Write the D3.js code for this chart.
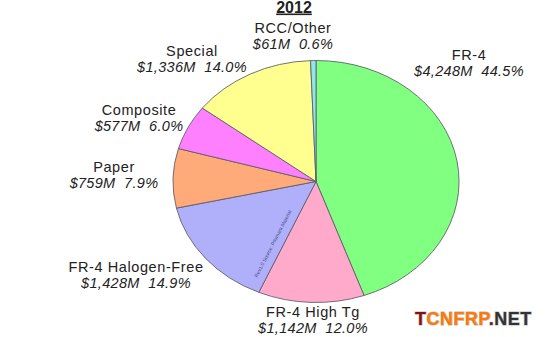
<!DOCTYPE html>
<html>
<head>
<meta charset="utf-8">
<script src="https://cdn.jsdelivr.net/npm/d3@7"></script>
<style>
  html, body { margin: 0; padding: 0; background: #fff; }
  svg { display: block; }
  text { font-family: "Liberation Sans", Arial, Helvetica, sans-serif; fill: #222; }
</style>
</head>
<body>
<svg id="chart" width="557" height="337"></svg>
<script>
// ---- data ----
const title = "2012";
const categories = ["FR-4", "FR-4 High Tg", "FR-4 Halogen-Free", "Paper", "Composite", "Special", "RCC/Other"];
const valuesM = ["$4,248M", "$1,142M", "$1,428M", "$759M", "$577M", "$1,336M", "$61M"];
const shares = [44.5, 12.0, 14.9, 7.9, 6.0, 14.0, 0.6];
const colors = ["#80ff80", "#ffaacb", "#b0b0fa", "#ffaa78", "#ff80ff", "#ffff90", "#8fe8e8"];

// ---- layout (label anchor points: center x, baseline of first line) ----
const labelPos = [[469, 60], [313, 317], [136, 272], [114, 172], [139, 115], [192, 56], [293, 33]];

const svg = d3.select("#chart");
const cx = 316, cy = 181.5, rx = 143, ry = 121;

const pie = d3.pie().sort(null).value(d => d.v);
const data = categories.map((c, i) => ({ c, v: shares[i], m: valuesM[i], col: colors[i], i }));
const arcs = pie(data);
const arc = d3.arc().innerRadius(0).outerRadius(1);

const g = svg.append("g").attr("transform", `translate(${cx},${cy}) scale(${rx},${ry})`);
g.selectAll("path").data(arcs).join("path")
  .attr("d", arc)
  .attr("fill", d => d.data.col)
  .attr("stroke", "#5a5a6a")
  .attr("stroke-opacity", 0.85)
  .attr("stroke-width", 1)
  .attr("vector-effect", "non-scaling-stroke");

// title
svg.append("text").attr("x", 294).attr("y", 12.5)
  .attr("text-anchor", "middle").attr("font-size", 16).attr("font-weight", "bold")
  .attr("text-decoration", "underline").text(title);

// labels
const lab = svg.append("g");
arcs.forEach((d, i) => {
  const [x, y] = labelPos[i];
  lab.append("text").attr("x", x).attr("y", y).attr("text-anchor", "middle")
    .attr("font-size", 14.5).attr("letter-spacing", 0.6).text(d.data.c);
  lab.append("text").attr("x", x).attr("y", y + 15.5).attr("text-anchor", "middle")
    .attr("font-size", 14.5).attr("font-style", "italic").attr("letter-spacing", 0.3)
    .attr("xml:space", "preserve")
    .text(d.data.m + "  " + d.data.v.toFixed(1) + "%");
});

// tiny rotated source note along the Halogen-Free / High Tg border
const b = arcs[2].startAngle;
const px = cx + Math.sin(b) * rx * 0.55, py = cy - Math.cos(b) * ry * 0.55;
const ang = Math.atan2(-Math.cos(b) * ry, Math.sin(b) * rx) * 180 / Math.PI;
svg.append("text").attr("x", px - 10).attr("y", py + 2)
  .attr("transform", `rotate(${ang + 180},${px - 10},${py + 2})`)
  .attr("text-anchor", "middle").attr("font-size", 5).style("fill", "#4a4a8a")
  .text("Rev1.0 Source: Prismark Material");

// watermark
const wm = svg.append("text").attr("x", 415).attr("y", 325)
  .attr("font-size", 18).attr("font-weight", "bold").attr("letter-spacing", 0.5)
  .style("paint-order", "stroke").attr("stroke", "#bbb").attr("stroke-width", 1.2);
wm.append("tspan").style("fill", "#8a1010").text("T");
wm.append("tspan").style("fill", "#ff7a00").text("CNFRP");
wm.append("tspan").style("fill", "#333").text(".NET");
</script>
</body>
</html>
